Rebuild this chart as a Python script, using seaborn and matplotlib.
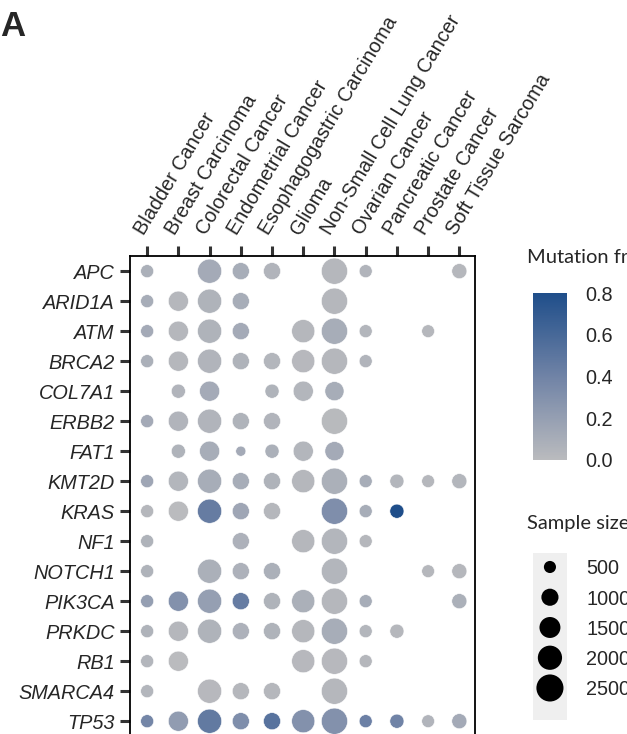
"""Mutation frequency dot plot by cancer type."""

import numpy as np
import pandas as pd
import matplotlib
matplotlib.use("Agg")
import matplotlib.pyplot as plt
from matplotlib.colors import LinearSegmentedColormap, Normalize
import seaborn as sns

# Categories
cancers = ["Bladder Cancer", "Breast Carcinoma", "Colorectal Cancer", "Endometrial Cancer",
           "Esophagogastric Carcinoma", "Glioma", "Non-Small Cell Lung Cancer", "Ovarian Cancer",
           "Pancreatic Cancer", "Prostate Cancer", "Soft Tissue Sarcoma"]
genes = ["APC", "ARID1A", "ATM", "BRCA2", "COL7A1", "ERBB2", "FAT1", "KMT2D", "KRAS",
         "NF1", "NOTCH1", "PIK3CA", "PRKDC", "RB1", "SMARCA4", "TP53"]

# Sample size per cancer type (most genes)
sample_size = [580, 1380, 1990, 1000, 1000, 1830, 2340, 580, 680, 560, 780]
# Genes sequenced in fewer samples
sample_size_small = {"COL7A1": [580, 680, 1380, 350, 680, 1380, 1250, 580, 680, 560, 780],
                     "FAT1": [580, 680, 1380, 350, 680, 1380, 1250, 580, 680, 560, 780]}

n = np.nan
# Mutation frequency (rows = genes, cols = cancers), nan = not shown
freq = {
    "APC":     [0.08, n, 0.12, 0.10, 0.05, n, 0.03, 0.05, n, n, 0.03],
    "ARID1A":  [0.10, 0.03, 0.06, 0.10, n, n, 0.03, n, n, n, n],
    "ATM":     [0.12, 0.03, 0.06, 0.12, n, 0.03, 0.10, 0.04, n, 0.03, n],
    "BRCA2":   [0.08, 0.03, 0.05, 0.06, 0.04, 0.02, 0.03, 0.05, n, n, n],
    "COL7A1":  [n, 0.05, 0.12, n, 0.06, 0.04, 0.10, n, n, n, n],
    "ERBB2":   [0.12, 0.05, 0.05, 0.06, 0.05, n, 0.01, n, n, n, n],
    "FAT1":    [n, 0.06, 0.10, 0.12, 0.08, 0.04, 0.12, n, n, n, n],
    "KMT2D":   [0.15, 0.04, 0.10, 0.10, 0.06, 0.03, 0.08, 0.10, 0.04, 0.03, 0.04],
    "KRAS":    [0.03, 0.00, 0.45, 0.15, 0.03, n, 0.32, 0.10, 0.80, n, n],
    "NF1":     [0.06, n, n, 0.07, n, 0.03, 0.04, 0.03, n, n, n],
    "NOTCH1":  [0.06, n, 0.08, 0.07, 0.08, n, 0.04, n, n, 0.03, 0.03],
    "PIK3CA":  [0.20, 0.30, 0.20, 0.45, 0.06, 0.08, 0.03, 0.10, n, n, 0.08],
    "PRKDC":   [0.06, 0.03, 0.06, 0.07, 0.06, 0.03, 0.10, 0.04, 0.03, n, n],
    "RB1":     [0.04, 0.00, n, n, n, 0.02, 0.02, 0.03, n, n, n],
    "SMARCA4": [0.04, n, 0.02, 0.03, 0.03, n, 0.03, n, n, n, n],
    "TP53":    [0.38, 0.22, 0.47, 0.32, 0.52, 0.30, 0.30, 0.42, 0.40, 0.05, 0.12],
}

legend_sizes = [500, 1000, 1500, 2000, 2500]
cbar_ticks = [0.0, 0.2, 0.4, 0.6, 0.8]

# Build long table
rows = []
for gi, g in enumerate(genes):
    sizes = sample_size_small.get(g, sample_size)
    for ci, c in enumerate(cancers):
        if not np.isnan(freq[g][ci]):
            rows.append({"gene": gi, "cancer": ci, "freq": freq[g][ci], "n": sizes[ci]})
df = pd.DataFrame(rows)

sns.set_style("white")
plt.rcParams["font.family"] = ["Liberation Sans", "DejaVu Sans"]

cmap = LinearSegmentedColormap.from_list("mut", ["#babbbe", "#7083a6", "#1f4e8a"])
norm = Normalize(0, 0.8)
size_norm = (0, 2500)
size_range = (0, 380)

fig = plt.figure(figsize=(6.27, 7.34), dpi=100)
ax = fig.add_axes([0.2073, -0.003, 0.5502, 0.654])

sns.scatterplot(data=df, x="cancer", y="gene", hue="freq", size="n",
                palette=cmap, hue_norm=norm, size_norm=size_norm, sizes=size_range,
                linewidth=0.4, edgecolor="white", legend=False, ax=ax)

ax.set_xlim(-0.55, 10.5)
ax.set_ylim(15.5, -0.5)
ax.xaxis.tick_top()
ax.set_xticks(range(len(cancers)))
ax.set_xticklabels(cancers, rotation=59, ha="left", va="bottom", rotation_mode="anchor")
ax.set_yticks(range(len(genes)))
ax.set_yticklabels(genes, style="italic")
ax.tick_params(axis="both", length=7, width=2.2, color="#333333", labelsize=14.3,
               left=True, top=True, bottom=False)
ax.tick_params(axis="x", pad=6)
ax.tick_params(axis="y", pad=4)
ax.set_xlabel("")
ax.set_ylabel("")
for s in ax.spines.values():
    s.set_color("black")
    s.set_linewidth(1.3)

# Colorbar
cax = fig.add_axes([0.850, 0.3733, 0.0542, 0.2275])
sm = plt.cm.ScalarMappable(cmap=cmap, norm=norm)
cbar = fig.colorbar(sm, cax=cax, ticks=cbar_ticks)
cbar.outline.set_visible(False)
cbar.ax.set_yticklabels([f"{t:.1f}" for t in cbar_ticks])
cbar.ax.tick_params(left=True, right=True, direction="in", color="white", length=4,
                    width=1, labelsize=14.3, pad=13)
fig.text(527 / 627, 1 - 258 / 734, "Mutation frequency", fontsize=14.5,
         family=["Lato", "DejaVu Sans"], va="center", ha="left")

# Size legend
lax = fig.add_axes([0.850, 0.019, 0.0542, 0.2275])
lax.set_facecolor("#efefef")
leg_df = pd.DataFrame({"x": [0] * len(legend_sizes), "y": range(len(legend_sizes)),
                       "n": legend_sizes})
sns.scatterplot(data=leg_df, x="x", y="y", size="n", size_norm=size_norm, sizes=size_range,
                color="black", linewidth=0, legend=False, ax=lax)
lax.set_xlim(-1, 1)
lax.set_ylim(5.06, -0.46)
lax.set_xticks([])
lax.yaxis.tick_right()
lax.set_yticks(range(len(legend_sizes)))
lax.set_yticklabels([str(v) for v in legend_sizes])
lax.tick_params(axis="y", length=0, labelsize=14.3, pad=14)
lax.set_xlabel("")
lax.set_ylabel("")
for s in lax.spines.values():
    s.set_visible(False)
fig.text(527 / 627, 1 - 523 / 734, "Sample size", fontsize=14.5,
         family=["Lato", "DejaVu Sans"], va="center", ha="left")

fig.text(0.0, 1 - 27 / 734, "A", fontsize=25, fontweight="bold", va="center", ha="left")

fig.savefig("out.png", dpi=100)
